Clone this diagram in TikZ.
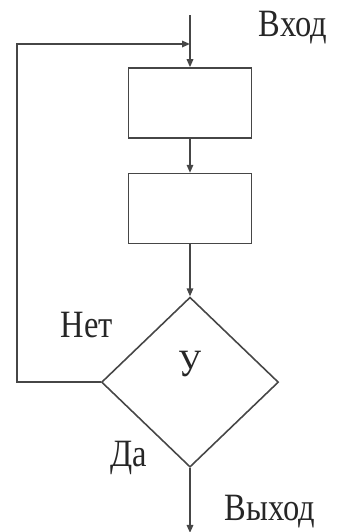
\documentclass[tikz,border=0pt]{standalone}
\usepackage{fontspec}
\setmainfont{Liberation Serif}
\usetikzlibrary{arrows.meta,positioning,shapes.geometric}
\definecolor{ink}{RGB}{70,70,70}
\newcommand{\narrowtxt}[1]{\scalebox{0.84}[1]{#1}}
\tikzset{
  blk/.style={draw=ink,line width=0.9pt,minimum width=2.46cm,minimum height=1.4cm,inner sep=0pt},
  cond/.style={diamond,draw=ink,line width=0.9pt,minimum width=3.54cm,minimum height=3.4cm,inner sep=0pt},
  arr/.style={-{Triangle[length=1.6mm,width=1.3mm]},draw=ink,line width=0.9pt},
  lbl/.style={font=\fontsize{22}{26}\selectfont,text=black!85,inner sep=0pt},
}
\begin{document}
\begin{tikzpicture}
  \useasboundingbox (0,0) rectangle (6.74,-10.64);
  \coordinate (in) at (3.80,-0.3);
  \node[blk] (b1) at (3.80,-2.06) {};
  \node[blk,below=0.68cm of b1] (b2) {};
  \node[cond,below=1.04cm of b2] (u) {};
  \coordinate[below=1.3cm of u.south] (out);
  \coordinate (join) at (3.80,-0.88);
  \coordinate (back) at (0.34,-0.88);
  \draw[arr] (in) -- (b1);
  \draw[arr] (b1) -- (b2);
  \draw[arr] (b2) -- (u);
  \draw[arr] (u.south) -- (out);
  % return branch
  \draw[arr] (u.west) -| (back) -- (join);
  \node[lbl] (vhod) at (5.86,-0.56) {\narrowtxt{Вход}};
  \node[lbl] (net) at (1.74,-6.5) {\narrowtxt{Нет}};
  \node[lbl] (ylab) at (3.80,-7.28) {\narrowtxt{У}};
  \node[lbl] (da) at (2.58,-9.16) {\narrowtxt{Да}};
  \node[lbl] (vyhod) at (5.4,-10.24) {\narrowtxt{Выход}};
\end{tikzpicture}
\end{document}
